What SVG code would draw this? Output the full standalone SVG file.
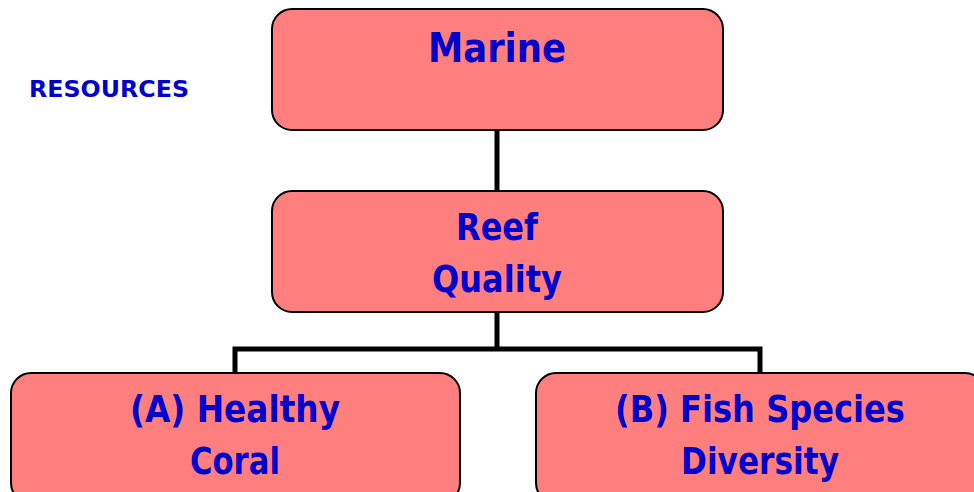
<svg xmlns="http://www.w3.org/2000/svg" width="974" height="492" viewBox="0 0 974 492">
<style>
.box{fill:#FF7F7F;stroke:#000;stroke-width:2}
.t{font-family:"DejaVu Sans","Liberation Sans",sans-serif;font-weight:bold;fill:#0000CC;text-anchor:middle}
.c{stroke:#000;stroke-width:5;fill:none}
</style>
<rect width="974" height="492" fill="#fff"/>
<text class="t" x="109" y="97" font-size="23" textLength="160" lengthAdjust="spacingAndGlyphs">RESOURCES</text>
<g id="connectors">
<line class="c" x1="497" y1="130" x2="497" y2="191"/>
<line class="c" x1="497" y1="312" x2="497" y2="349"/>
<polyline class="c" points="235,373 235,349 760,349 760,373"/>
</g>
<g id="marine">
<rect class="box" x="272" y="9" width="451" height="121" rx="20"/>
<text class="t" x="497" y="62" font-size="40" textLength="138" lengthAdjust="spacingAndGlyphs">Marine</text>
</g>
<g id="reef">
<rect class="box" x="272" y="191" width="451" height="121" rx="20"/>
<text class="t" x="497" y="240" font-size="38" textLength="82" lengthAdjust="spacingAndGlyphs">Reef</text>
<text class="t" x="497" y="292" font-size="38" textLength="130" lengthAdjust="spacingAndGlyphs">Quality</text>
</g>
<g id="coral">
<rect class="box" x="11" y="373" width="449" height="130" rx="20"/>
<text class="t" x="235" y="422" font-size="38" textLength="210" lengthAdjust="spacingAndGlyphs">(A) Healthy</text>
<text class="t" x="235" y="474" font-size="38" textLength="90" lengthAdjust="spacingAndGlyphs">Coral</text>
</g>
<g id="fish">
<rect class="box" x="536" y="373" width="449" height="130" rx="20"/>
<text class="t" x="760" y="422" font-size="38" textLength="290" lengthAdjust="spacingAndGlyphs">(B) Fish Species</text>
<text class="t" x="760" y="474" font-size="38" textLength="158" lengthAdjust="spacingAndGlyphs">Diversity</text>
</g>
</svg>
